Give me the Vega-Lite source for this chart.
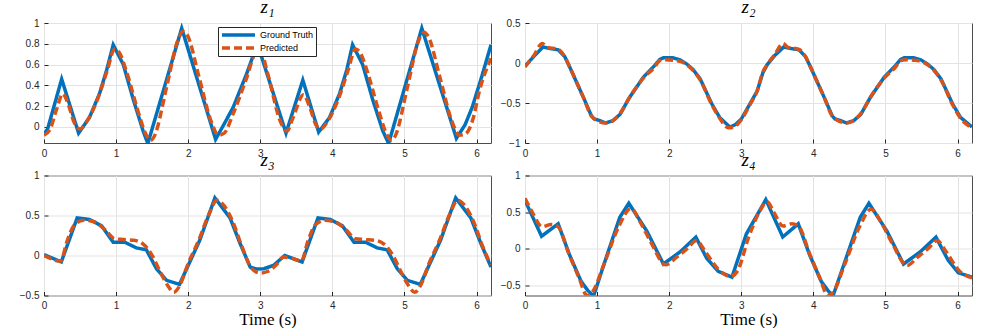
{
  "$schema": "https://vega.github.io/schema/vega-lite/v6.json",
  "padding": {"left": 18, "top": -3, "right": 0, "bottom": 0},
  "columns": 2,
  "spacing": {"row": 32.5, "column": 34},
  "bounds": "flush",
  "resolve": {"scale": {"color": "independent", "strokeDash": "independent"}, "legend": {"color": "independent", "strokeDash": "independent"}},
  "datasets": {
    "z1gt": [{"t":0,"v":-0.07},{"t":0.05,"v":-0.02},{"t":0.245,"v":0.46},{"t":0.48,"v":-0.06},{"t":0.63,"v":0.09},{"t":0.77,"v":0.32},{"t":0.87,"v":0.55},{"t":0.96,"v":0.79},{"t":1.1,"v":0.6},{"t":1.24,"v":0.26},{"t":1.375,"v":-0.04},{"t":1.44,"v":-0.16},{"t":1.91,"v":0.95},{"t":2.38,"v":-0.12},{"t":2.5,"v":0.03},{"t":2.625,"v":0.19},{"t":2.81,"v":0.51},{"t":2.96,"v":0.8},{"t":3.357,"v":-0.06},{"t":3.59,"v":0.45},{"t":3.81,"v":-0.05},{"t":3.96,"v":0.09},{"t":4.1,"v":0.32},{"t":4.2,"v":0.55},{"t":4.28,"v":0.79},{"t":4.42,"v":0.6},{"t":4.56,"v":0.26},{"t":4.7,"v":-0.04},{"t":4.78,"v":-0.16},{"t":5.24,"v":0.95},{"t":5.72,"v":-0.11},{"t":5.84,"v":0.02},{"t":5.94,"v":0.19},{"t":6.07,"v":0.48},{"t":6.2,"v":0.79}],
    "z1pr": [{"t":0,"v":-0.08},{"t":0.08,"v":-0.03},{"t":0.18,"v":0.18},{"t":0.26,"v":0.32},{"t":0.33,"v":0.23},{"t":0.42,"v":0.04},{"t":0.5,"v":-0.02},{"t":0.6,"v":0.06},{"t":0.75,"v":0.28},{"t":0.88,"v":0.55},{"t":0.98,"v":0.75},{"t":1.04,"v":0.72},{"t":1.15,"v":0.52},{"t":1.3,"v":0.16},{"t":1.42,"v":-0.08},{"t":1.48,"v":-0.13},{"t":1.53,"v":-0.09},{"t":1.7,"v":0.38},{"t":1.85,"v":0.82},{"t":1.93,"v":0.92},{"t":1.99,"v":0.88},{"t":2.15,"v":0.48},{"t":2.32,"v":0.05},{"t":2.42,"v":-0.08},{"t":2.5,"v":-0.06},{"t":2.62,"v":0.12},{"t":2.8,"v":0.45},{"t":2.95,"v":0.73},{"t":3.0,"v":0.74},{"t":3.1,"v":0.52},{"t":3.28,"v":0.05},{"t":3.37,"v":-0.04},{"t":3.45,"v":0.08},{"t":3.6,"v":0.31},{"t":3.68,"v":0.2},{"t":3.78,"v":0.01},{"t":3.84,"v":-0.02},{"t":3.94,"v":0.06},{"t":4.09,"v":0.28},{"t":4.22,"v":0.55},{"t":4.32,"v":0.75},{"t":4.38,"v":0.72},{"t":4.49,"v":0.52},{"t":4.64,"v":0.16},{"t":4.76,"v":-0.08},{"t":4.82,"v":-0.13},{"t":4.87,"v":-0.09},{"t":5.04,"v":0.38},{"t":5.19,"v":0.82},{"t":5.27,"v":0.91},{"t":5.33,"v":0.87},{"t":5.49,"v":0.48},{"t":5.66,"v":0.05},{"t":5.76,"v":-0.08},{"t":5.84,"v":-0.07},{"t":5.96,"v":0.1},{"t":6.03,"v":0.32},{"t":6.2,"v":0.66}],
    "z2gt": [{"t":0,"v":-0.04},{"t":0.12,"v":0.08},{"t":0.25,"v":0.2},{"t":0.35,"v":0.18},{"t":0.46,"v":0.165},{"t":0.55,"v":0.08},{"t":0.62,"v":-0.05},{"t":0.72,"v":-0.25},{"t":0.81,"v":-0.43},{"t":0.92,"v":-0.66},{"t":0.96,"v":-0.7},{"t":1.04,"v":-0.72},{"t":1.12,"v":-0.75},{"t":1.22,"v":-0.72},{"t":1.32,"v":-0.64},{"t":1.45,"v":-0.43},{"t":1.64,"v":-0.18},{"t":1.8,"v":-0.03},{"t":1.87,"v":0.045},{"t":1.92,"v":0.065},{"t":2.05,"v":0.065},{"t":2.15,"v":0.04},{"t":2.24,"v":-0.01},{"t":2.33,"v":-0.08},{"t":2.43,"v":-0.2},{"t":2.59,"v":-0.51},{"t":2.7,"v":-0.68},{"t":2.84,"v":-0.8},{"t":2.92,"v":-0.77},{"t":3.0,"v":-0.7},{"t":3.12,"v":-0.51},{"t":3.22,"v":-0.35},{"t":3.3,"v":-0.12},{"t":3.36,"v":-0.02},{"t":3.46,"v":0.09},{"t":3.59,"v":0.2},{"t":3.69,"v":0.18},{"t":3.8,"v":0.165},{"t":3.89,"v":0.08},{"t":3.96,"v":-0.05},{"t":4.06,"v":-0.25},{"t":4.15,"v":-0.43},{"t":4.26,"v":-0.66},{"t":4.3,"v":-0.7},{"t":4.38,"v":-0.72},{"t":4.46,"v":-0.75},{"t":4.56,"v":-0.72},{"t":4.66,"v":-0.64},{"t":4.79,"v":-0.43},{"t":4.98,"v":-0.18},{"t":5.14,"v":-0.03},{"t":5.21,"v":0.045},{"t":5.26,"v":0.065},{"t":5.39,"v":0.065},{"t":5.49,"v":0.04},{"t":5.58,"v":-0.01},{"t":5.67,"v":-0.08},{"t":5.77,"v":-0.2},{"t":5.93,"v":-0.51},{"t":6.04,"v":-0.68},{"t":6.2,"v":-0.8}],
    "z2pr": [{"t":0,"v":-0.05},{"t":0.12,"v":0.09},{"t":0.24,"v":0.245},{"t":0.3,"v":0.2},{"t":0.46,"v":0.17},{"t":0.55,"v":0.08},{"t":0.62,"v":-0.05},{"t":0.72,"v":-0.25},{"t":0.81,"v":-0.43},{"t":0.92,"v":-0.66},{"t":0.98,"v":-0.71},{"t":1.12,"v":-0.75},{"t":1.22,"v":-0.72},{"t":1.32,"v":-0.63},{"t":1.45,"v":-0.43},{"t":1.64,"v":-0.19},{"t":1.8,"v":-0.05},{"t":1.87,"v":0.03},{"t":1.95,"v":0.04},{"t":2.05,"v":0.035},{"t":2.15,"v":0.02},{"t":2.24,"v":-0.02},{"t":2.33,"v":-0.09},{"t":2.43,"v":-0.21},{"t":2.59,"v":-0.52},{"t":2.7,"v":-0.69},{"t":2.82,"v":-0.81},{"t":2.9,"v":-0.8},{"t":3.0,"v":-0.71},{"t":3.12,"v":-0.52},{"t":3.22,"v":-0.35},{"t":3.3,"v":-0.11},{"t":3.36,"v":-0.02},{"t":3.46,"v":0.1},{"t":3.58,"v":0.245},{"t":3.64,"v":0.2},{"t":3.8,"v":0.17},{"t":3.89,"v":0.08},{"t":3.96,"v":-0.05},{"t":4.06,"v":-0.25},{"t":4.15,"v":-0.43},{"t":4.26,"v":-0.66},{"t":4.32,"v":-0.71},{"t":4.46,"v":-0.75},{"t":4.56,"v":-0.72},{"t":4.66,"v":-0.63},{"t":4.79,"v":-0.43},{"t":4.98,"v":-0.19},{"t":5.14,"v":-0.05},{"t":5.21,"v":0.03},{"t":5.29,"v":0.04},{"t":5.39,"v":0.035},{"t":5.49,"v":0.02},{"t":5.58,"v":-0.02},{"t":5.67,"v":-0.09},{"t":5.77,"v":-0.21},{"t":5.93,"v":-0.52},{"t":6.04,"v":-0.69},{"t":6.2,"v":-0.81}],
    "z3gt": [{"t":0,"v":0.01},{"t":0.24,"v":-0.08},{"t":0.46,"v":0.47},{"t":0.63,"v":0.45},{"t":0.8,"v":0.37},{"t":0.96,"v":0.165},{"t":1.12,"v":0.165},{"t":1.28,"v":0.095},{"t":1.42,"v":0.07},{"t":1.56,"v":-0.165},{"t":1.7,"v":-0.31},{"t":1.88,"v":-0.36},{"t":2.16,"v":0.19},{"t":2.37,"v":0.72},{"t":2.58,"v":0.47},{"t":2.72,"v":0.15},{"t":2.86,"v":-0.145},{"t":2.95,"v":-0.17},{"t":3.05,"v":-0.165},{"t":3.18,"v":-0.125},{"t":3.34,"v":0.0},{"t":3.58,"v":-0.08},{"t":3.8,"v":0.47},{"t":3.97,"v":0.45},{"t":4.14,"v":0.37},{"t":4.3,"v":0.165},{"t":4.46,"v":0.165},{"t":4.62,"v":0.095},{"t":4.76,"v":0.07},{"t":4.9,"v":-0.165},{"t":5.04,"v":-0.31},{"t":5.22,"v":-0.36},{"t":5.5,"v":0.19},{"t":5.71,"v":0.72},{"t":5.92,"v":0.47},{"t":6.06,"v":0.15},{"t":6.2,"v":-0.145}],
    "z3pr": [{"t":0,"v":0.0},{"t":0.23,"v":-0.07},{"t":0.32,"v":0.18},{"t":0.42,"v":0.38},{"t":0.55,"v":0.44},{"t":0.7,"v":0.42},{"t":0.85,"v":0.32},{"t":0.98,"v":0.21},{"t":1.1,"v":0.2},{"t":1.25,"v":0.19},{"t":1.38,"v":0.14},{"t":1.5,"v":0.0},{"t":1.62,"v":-0.22},{"t":1.72,"v":-0.38},{"t":1.8,"v":-0.46},{"t":1.88,"v":-0.38},{"t":2.0,"v":-0.1},{"t":2.15,"v":0.2},{"t":2.28,"v":0.5},{"t":2.4,"v":0.69},{"t":2.5,"v":0.62},{"t":2.62,"v":0.42},{"t":2.75,"v":0.1},{"t":2.88,"v":-0.16},{"t":3.0,"v":-0.22},{"t":3.1,"v":-0.2},{"t":3.22,"v":-0.12},{"t":3.32,"v":-0.02},{"t":3.42,"v":-0.03},{"t":3.57,"v":-0.07},{"t":3.66,"v":0.18},{"t":3.76,"v":0.38},{"t":3.89,"v":0.44},{"t":4.04,"v":0.42},{"t":4.19,"v":0.32},{"t":4.32,"v":0.21},{"t":4.44,"v":0.2},{"t":4.59,"v":0.19},{"t":4.72,"v":0.14},{"t":4.84,"v":0.0},{"t":4.96,"v":-0.22},{"t":5.06,"v":-0.38},{"t":5.14,"v":-0.46},{"t":5.22,"v":-0.38},{"t":5.34,"v":-0.1},{"t":5.49,"v":0.2},{"t":5.62,"v":0.5},{"t":5.74,"v":0.69},{"t":5.84,"v":0.62},{"t":5.96,"v":0.42},{"t":6.09,"v":0.1},{"t":6.2,"v":-0.12}],
    "z4gt": [{"t":0,"v":0.66},{"t":0.23,"v":0.17},{"t":0.46,"v":0.34},{"t":0.62,"v":-0.09},{"t":0.78,"v":-0.45},{"t":0.87,"v":-0.57},{"t":0.95,"v":-0.65},{"t":1.13,"v":-0.11},{"t":1.315,"v":0.43},{"t":1.44,"v":0.62},{"t":1.69,"v":0.24},{"t":1.92,"v":-0.21},{"t":2.15,"v":-0.045},{"t":2.37,"v":0.157},{"t":2.52,"v":-0.13},{"t":2.68,"v":-0.31},{"t":2.87,"v":-0.39},{"t":3.07,"v":0.2},{"t":3.34,"v":0.67},{"t":3.575,"v":0.16},{"t":3.79,"v":0.34},{"t":3.95,"v":-0.09},{"t":4.11,"v":-0.45},{"t":4.2,"v":-0.57},{"t":4.27,"v":-0.65},{"t":4.46,"v":-0.11},{"t":4.65,"v":0.43},{"t":4.77,"v":0.62},{"t":5.02,"v":0.24},{"t":5.25,"v":-0.21},{"t":5.48,"v":-0.045},{"t":5.7,"v":0.157},{"t":5.87,"v":-0.16},{"t":6.01,"v":-0.33},{"t":6.2,"v":-0.39}],
    "z4pr": [{"t":0,"v":0.69},{"t":0.1,"v":0.5},{"t":0.24,"v":0.3},{"t":0.36,"v":0.33},{"t":0.46,"v":0.3},{"t":0.6,"v":-0.05},{"t":0.75,"v":-0.4},{"t":0.86,"v":-0.64},{"t":0.93,"v":-0.6},{"t":1.1,"v":-0.2},{"t":1.3,"v":0.3},{"t":1.47,"v":0.55},{"t":1.6,"v":0.36},{"t":1.75,"v":0.08},{"t":1.95,"v":-0.22},{"t":2.1,"v":-0.12},{"t":2.25,"v":0.0},{"t":2.38,"v":0.11},{"t":2.5,"v":-0.04},{"t":2.68,"v":-0.28},{"t":2.85,"v":-0.38},{"t":2.95,"v":-0.3},{"t":3.1,"v":0.15},{"t":3.25,"v":0.5},{"t":3.36,"v":0.64},{"t":3.45,"v":0.5},{"t":3.58,"v":0.31},{"t":3.7,"v":0.34},{"t":3.8,"v":0.3},{"t":3.94,"v":-0.05},{"t":4.09,"v":-0.4},{"t":4.2,"v":-0.64},{"t":4.27,"v":-0.6},{"t":4.44,"v":-0.2},{"t":4.64,"v":0.3},{"t":4.8,"v":0.54},{"t":4.94,"v":0.36},{"t":5.09,"v":0.08},{"t":5.3,"v":-0.23},{"t":5.44,"v":-0.12},{"t":5.59,"v":0.0},{"t":5.72,"v":0.11},{"t":5.84,"v":-0.04},{"t":6.02,"v":-0.3},{"t":6.2,"v":-0.4}]
  },
  "concat": [
    {
      "width": 447, "height": 120,
      "title": "z₁",
      "layer": [
        {
          "data": {"name": "z1gt"},
          "mark": {"type": "line", "strokeWidth": 3.5, "clip": true},
          "encoding": {
            "x": {"field": "t", "type": "quantitative", "scale": {"domain": [0, 6.2], "nice": false}, "axis": {"values": [0,1,2,3,4,5,6], "tickCount": 20, "format": "~g", "title": null}},
            "y": {"field": "v", "type": "quantitative", "scale": {"domain": [-0.155, 1], "nice": false, "zero": false}, "axis": {"values": [0,0.2,0.4,0.6,0.8,1], "tickCount": 20, "format": "~g", "title": null}},
            "color": {"datum": "Ground Truth", "scale": {"domain": ["Ground Truth", "Predicted"], "range": ["#0072BD", "#D95319"]},
              "legend": {"orient": "none", "legendX": 174, "legendY": 4, "title": null, "symbolType": "stroke", "symbolSize": 1089, "symbolStrokeWidth": 3.5, "clipHeight": 12, "labelFont": "Liberation Sans", "labelFontSize": 9, "labelColor": "#000", "fillColor": "white", "strokeColor": "#262626", "padding": 2, "labelOffset": 3, "rowPadding": 1, "cornerRadius": 0}},
            "strokeDash": {"datum": "Ground Truth", "scale": {"domain": ["Ground Truth", "Predicted"], "range": [[1,0],[8,4]]},
              "legend": {"orient": "none", "legendX": 174, "legendY": 4, "title": null, "symbolType": "stroke", "symbolSize": 1089, "symbolStrokeWidth": 3.5, "clipHeight": 12, "labelFont": "Liberation Sans", "labelFontSize": 9, "labelColor": "#000", "fillColor": "white", "strokeColor": "#262626", "padding": 2, "labelOffset": 3, "rowPadding": 1, "cornerRadius": 0}}
          }
        },
        {
          "data": {"name": "z1pr"},
          "mark": {"type": "line", "strokeWidth": 3.5, "clip": true, "interpolate": "monotone"},
          "encoding": {
            "x": {"field": "t", "type": "quantitative"},
            "y": {"field": "v", "type": "quantitative"},
            "color": {"datum": "Predicted"},
            "strokeDash": {"datum": "Predicted"}
          }
        }
      ]
    },
    {
      "width": 447, "height": 120,
      "title": "z₂",
      "layer": [
        {
          "data": {"name": "z2gt"},
          "mark": {"type": "line", "strokeWidth": 3.5, "clip": true, "color": "#0072BD"},
          "encoding": {
            "x": {"field": "t", "type": "quantitative", "scale": {"domain": [0, 6.2], "nice": false}, "axis": {"values": [0,1,2,3,4,5,6], "tickCount": 20, "format": "~g", "title": null}},
            "y": {"field": "v", "type": "quantitative", "scale": {"domain": [-1, 0.5], "nice": false, "zero": false}, "axis": {"values": [-1,-0.5,0,0.5], "tickCount": 20, "format": "~g", "title": null}}
          }
        },
        {
          "data": {"name": "z2pr"},
          "mark": {"type": "line", "strokeWidth": 3.5, "clip": true, "interpolate": "monotone", "color": "#D95319", "strokeDash": [8,4]},
          "encoding": {
            "x": {"field": "t", "type": "quantitative"},
            "y": {"field": "v", "type": "quantitative"}
          }
        }
      ]
    },
    {
      "width": 447, "height": 120,
      "title": "z₃",
      "layer": [
        {
          "data": {"name": "z3gt"},
          "mark": {"type": "line", "strokeWidth": 3.5, "clip": true, "color": "#0072BD"},
          "encoding": {
            "x": {"field": "t", "type": "quantitative", "scale": {"domain": [0, 6.2], "nice": false}, "axis": {"values": [0,1,2,3,4,5,6], "tickCount": 20, "format": "~g", "title": "Time (s)"}},
            "y": {"field": "v", "type": "quantitative", "scale": {"domain": [-0.5, 1], "nice": false, "zero": false}, "axis": {"values": [-0.5,0,0.5,1], "tickCount": 20, "format": "~g", "title": null}}
          }
        },
        {
          "data": {"name": "z3pr"},
          "mark": {"type": "line", "strokeWidth": 3.5, "clip": true, "interpolate": "monotone", "color": "#D95319", "strokeDash": [8,4]},
          "encoding": {
            "x": {"field": "t", "type": "quantitative"},
            "y": {"field": "v", "type": "quantitative"}
          }
        }
      ]
    },
    {
      "width": 447, "height": 120,
      "title": "z₄",
      "layer": [
        {
          "data": {"name": "z4gt"},
          "mark": {"type": "line", "strokeWidth": 3.5, "clip": true, "color": "#0072BD"},
          "encoding": {
            "x": {"field": "t", "type": "quantitative", "scale": {"domain": [0, 6.2], "nice": false}, "axis": {"values": [0,1,2,3,4,5,6], "tickCount": 20, "format": "~g", "title": "Time (s)"}},
            "y": {"field": "v", "type": "quantitative", "scale": {"domain": [-0.64, 1], "nice": false, "zero": false}, "axis": {"values": [-0.5,0,0.5,1], "tickCount": 20, "format": "~g", "title": null}}
          }
        },
        {
          "data": {"name": "z4pr"},
          "mark": {"type": "line", "strokeWidth": 3.5, "clip": true, "interpolate": "monotone", "color": "#D95319", "strokeDash": [8,4]},
          "encoding": {
            "x": {"field": "t", "type": "quantitative"},
            "y": {"field": "v", "type": "quantitative"}
          }
        }
      ]
    }
  ],
  "config": {
    "font": "Liberation Sans",
    "background": "white",
    "view": {"stroke": "#4d4d4d", "strokeWidth": 1},
    "axis": {"labelFont": "Liberation Sans", "labelFontSize": 10, "labelColor": "#262626", "domain": false, "tickColor": "#262626", "tickSize": -4, "labelPadding": 9, "labelFlush": false, "labelOverlap": false, "gridColor": "#e3e3e3", "gridWidth": 1, "titleFont": "Liberation Serif", "titleFontSize": 17, "titleFontWeight": "normal", "titleColor": "#000", "titlePadding": 1},
    "axisX": {"labelAngle": 0},
    "title": {"font": "Liberation Serif", "fontStyle": "italic", "fontSize": 19, "fontWeight": "normal", "color": "#000", "anchor": "middle", "offset": 1}
  }
}
